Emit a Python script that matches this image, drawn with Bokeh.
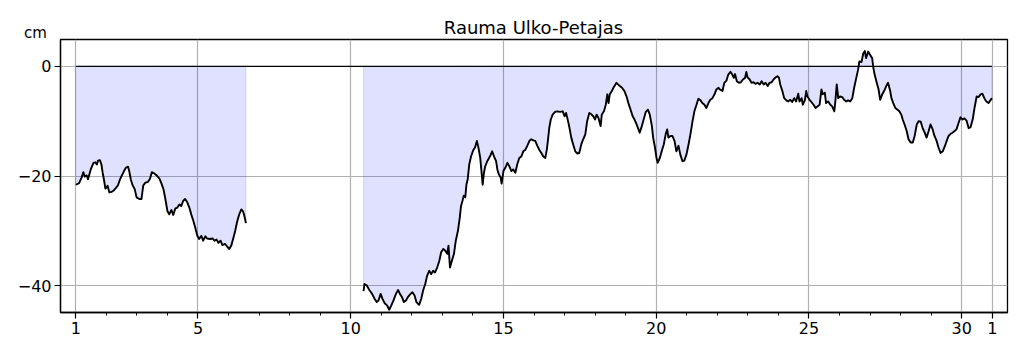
from bokeh.plotting import figure
from bokeh.models import FixedTicker, Range1d, Label
from bokeh.embed import file_html
from bokeh.resources import INLINE

# ---- data (day of month, sea level in cm) ----
seg1_day = [1.00, 1.11, 1.19, 1.25, 1.29, 1.36, 1.40, 1.49, 1.58, 1.64, 1.69, 1.73, 1.79, 1.84,
            1.88, 1.92, 1.97, 2.04, 2.10, 2.17, 2.23, 2.31, 2.38, 2.45, 2.51, 2.58, 2.64, 2.71,
            2.75, 2.80, 2.86, 2.93, 2.99, 3.08, 3.15, 3.21, 3.28, 3.36, 3.43, 3.49, 3.56, 3.65,
            3.74, 3.80, 3.87, 3.93, 4.00, 4.06, 4.13, 4.19, 4.26, 4.32, 4.39, 4.45, 4.52, 4.58,
            4.65, 4.72, 4.78, 4.85, 4.91, 4.98, 5.04, 5.11, 5.17, 5.24, 5.30, 5.39, 5.48, 5.54,
            5.61, 5.67, 5.74, 5.80, 5.89, 5.96, 6.02, 6.09, 6.15, 6.22, 6.28, 6.35, 6.42, 6.48,
            6.52, 6.57]
seg1_cm = [-21.6, -21.3, -20.3, -19.3, -20.1, -19.9, -20.6, -18.8, -17.6, -17.5, -17.9, -17.2, -17.1, -17.9,
           -19.4, -20.6, -22.3, -21.8, -23.0, -22.9, -22.7, -22.2, -21.7, -20.6, -19.9, -19.1, -18.5, -18.3,
           -19.1, -20.6, -21.7, -22.4, -23.9, -24.2, -24.2, -21.7, -21.2, -21.1, -20.5, -19.3, -19.5, -19.9,
           -20.5, -21.3, -22.4, -24.1, -26.4, -27.0, -26.2, -27.1, -25.9, -25.8, -25.2, -25.5, -24.5, -24.2,
           -24.8, -25.8, -27.0, -28.2, -29.4, -30.9, -31.5, -30.9, -31.8, -31.0, -31.4, -31.5, -31.4, -31.8,
           -31.6, -32.2, -31.8, -32.6, -32.4, -32.9, -33.3, -32.7, -31.5, -30.0, -28.4, -27.0, -26.1, -26.5,
           -27.3, -28.6]

seg2_day = [10.42, 10.45, 10.53, 10.61, 10.70, 10.78, 10.85, 10.91, 10.98, 11.04, 11.11, 11.19, 11.26, 11.33,
            11.40, 11.48, 11.55, 11.61, 11.68, 11.74, 11.81, 11.87, 11.96, 12.02, 12.09, 12.15, 12.24, 12.31,
            12.37, 12.44, 12.50, 12.57, 12.63, 12.70, 12.76, 12.83, 12.90, 12.96, 13.03, 13.09, 13.16, 13.20,
            13.25, 13.31, 13.38, 13.44, 13.51, 13.57, 13.61, 13.66, 13.70, 13.75, 13.79, 13.83, 13.88, 13.94,
            14.01, 14.07, 14.13, 14.18, 14.24, 14.28, 14.32, 14.36, 14.40, 14.47, 14.56, 14.63, 14.69, 14.76,
            14.80, 14.85, 14.91, 14.94, 15.00, 15.06, 15.13, 15.19, 15.26, 15.32, 15.39, 15.45, 15.52, 15.59,
            15.65, 15.72, 15.78, 15.85, 15.91, 15.98, 16.04, 16.11, 16.17, 16.24, 16.30, 16.37, 16.42, 16.46,
            16.50, 16.55, 16.61, 16.69, 16.76, 16.85, 16.94, 17.00, 17.05, 17.09, 17.15, 17.22, 17.28, 17.35,
            17.42, 17.48, 17.55, 17.61, 17.68, 17.74, 17.81, 17.87, 17.94, 18.00, 18.05, 18.11, 18.18, 18.22,
            18.29, 18.35, 18.40, 18.44, 18.48, 18.55, 18.61, 18.70, 18.79, 18.88, 18.96, 19.03, 19.09, 19.16,
            19.23, 19.29, 19.36, 19.42, 19.46, 19.53, 19.59, 19.66, 19.73, 19.79, 19.86, 19.90, 19.96, 20.01,
            20.05, 20.12, 20.18, 20.25, 20.31, 20.36, 20.40, 20.47, 20.53, 20.60, 20.66, 20.73, 20.79, 20.86,
            20.92, 20.99, 21.06, 21.12, 21.19, 21.25, 21.32, 21.38, 21.45, 21.51, 21.58, 21.64, 21.71, 21.77,
            21.84, 21.91, 21.97, 22.04, 22.08, 22.17, 22.23, 22.30, 22.36, 22.43, 22.49, 22.54, 22.58, 22.64,
            22.71, 22.77, 22.84, 22.91, 22.95, 22.99, 23.06, 23.12, 23.19, 23.25, 23.32, 23.39, 23.45, 23.52,
            23.58, 23.65, 23.71, 23.78, 23.84, 23.91, 23.97, 24.02, 24.06, 24.13, 24.19, 24.26, 24.32, 24.39,
            24.45, 24.52, 24.58, 24.65, 24.69, 24.76, 24.80, 24.87, 24.91, 24.95, 25.02, 25.08, 25.15, 25.22,
            25.28, 25.35, 25.41, 25.45, 25.52, 25.56, 25.63, 25.70, 25.76, 25.83, 25.87, 25.91, 25.96, 26.02,
            26.09, 26.15, 26.22, 26.28, 26.35, 26.42, 26.48, 26.55, 26.61, 26.65, 26.72, 26.78, 26.83, 26.87,
            26.94, 27.00, 27.07, 27.11, 27.15, 27.22, 27.28, 27.33, 27.40, 27.46, 27.53, 27.59, 27.66, 27.70,
            27.76, 27.83, 27.90, 27.96, 28.03, 28.07, 28.13, 28.20, 28.26, 28.33, 28.40, 28.46, 28.53, 28.59,
            28.66, 28.72, 28.79, 28.85, 28.92, 28.98, 29.05, 29.11, 29.18, 29.24, 29.31, 29.38, 29.44, 29.51,
            29.57, 29.64, 29.70, 29.77, 29.83, 29.90, 29.96, 30.03, 30.09, 30.16, 30.23, 30.29, 30.36, 30.42,
            30.49, 30.55, 30.62, 30.68, 30.75, 30.81, 30.88, 30.94, 30.99]
seg2_cm = [-41.0, -39.7, -40.0, -40.8, -41.5, -42.4, -43.0, -42.7, -41.5, -42.4, -43.2, -43.6, -44.4, -43.6,
           -42.7, -41.5, -40.8, -41.5, -42.1, -43.0, -42.7, -42.1, -41.5, -41.2, -41.8, -43.0, -43.5, -42.4,
           -40.9, -39.7, -38.2, -37.3, -37.9, -37.3, -37.6, -36.7, -35.5, -33.9, -33.3, -33.6, -34.2, -32.7,
           -36.7, -35.5, -34.2, -31.8, -30.0, -27.6, -25.5, -24.5, -23.6, -23.9, -21.5, -20.6, -17.9, -16.4,
           -15.3, -14.8, -13.6, -14.8, -16.7, -19.1, -21.6, -19.5, -18.3, -17.3, -16.4, -15.5, -16.4, -17.3,
           -18.8, -19.7, -20.3, -21.4, -19.1, -18.5, -17.6, -18.2, -19.1, -18.8, -19.4, -17.9, -16.7, -16.4,
           -15.5, -15.2, -14.5, -13.6, -13.3, -13.5, -13.6, -14.5, -15.2, -15.8, -16.4, -16.7, -15.2, -13.3,
           -11.2, -9.7, -8.8, -8.3, -8.2, -8.3, -8.2, -9.1, -8.5, -9.4, -10.9, -13.0, -14.2, -15.5,
           -15.9, -15.8, -14.2, -13.3, -12.4, -10.0, -8.5, -8.7, -9.1, -9.7, -8.8, -9.4, -10.9, -8.8,
           -8.2, -7.0, -5.1, -6.7, -5.1, -4.5, -3.8, -3.0, -3.5, -3.9, -4.5, -5.5, -6.7, -7.9,
           -9.1, -9.7, -10.6, -11.5, -12.1, -10.9, -9.7, -8.3, -7.9, -8.8, -10.9, -13.0, -14.8, -16.7,
           -17.6, -16.7, -15.5, -14.2, -12.4, -11.5, -13.0, -12.7, -12.7, -13.6, -15.5, -14.5, -16.1, -17.3,
           -17.2, -16.1, -14.2, -12.4, -10.0, -8.2, -7.0, -5.9, -6.2, -6.7, -7.0, -7.6, -6.7, -6.1,
           -5.8, -5.1, -4.2, -3.9, -4.2, -4.5, -3.0, -2.6, -1.5, -1.0, -1.5, -2.1, -1.4, -2.7,
           -3.0, -2.9, -2.4, -2.1, -1.0, -2.0, -2.4, -3.0, -2.9, -3.2, -3.0, -3.3, -2.7, -3.3,
           -3.0, -3.6, -3.0, -2.9, -2.4, -2.0, -1.8, -2.1, -3.3, -4.5, -5.8, -6.2, -6.4, -6.1,
           -6.5, -5.8, -6.4, -5.0, -6.4, -5.8, -7.0, -6.1, -4.5, -5.5, -6.1, -6.5, -7.0, -7.6,
           -7.3, -7.0, -4.2, -5.1, -4.8, -6.7, -6.4, -7.0, -7.3, -8.2, -6.1, -3.3, -5.8, -5.5,
           -5.6, -6.1, -6.4, -6.2, -6.4, -5.8, -3.9, -2.1, -0.6, 0.9, 0.8, 2.4, 2.8, 1.5,
           2.7, 2.1, 1.5, -0.3, -1.5, -3.0, -4.2, -6.1, -5.1, -4.5, -3.6, -3.0, -4.5, -5.8,
           -6.7, -7.6, -7.9, -8.2, -8.9, -9.7, -10.6, -11.8, -13.3, -13.9, -13.9, -12.7, -10.6, -10.0,
           -10.1, -11.2, -12.1, -13.0, -11.8, -10.6, -11.5, -12.7, -13.6, -14.8, -15.8, -15.5, -14.7, -13.6,
           -12.7, -12.3, -12.1, -11.8, -11.5, -10.3, -9.3, -9.7, -9.5, -9.9, -11.3, -11.1, -9.7, -7.6,
           -5.5, -5.6, -5.1, -5.0, -5.9, -6.4, -6.7, -6.2, -5.8]

x_ticks = [1, 5, 10, 15, 20, 25, 30, 31]
x_tick_labels = ["1", "5", "10", "15", "20", "25", "30", "1"]
x_minor = list(range(1, 32))
y_ticks = [0, -20, -40]
y_tick_labels = ["0", "\u221220", "\u221240"]
unit_label = "cm"
title_text = "Rauma Ulko-Petajas"

FONT = "DejaVu Sans"

p = figure(width=1019, height=346, output_backend="svg", toolbar_location=None,
           x_range=Range1d(0.5, 31.5), y_range=Range1d(-44.9, 4.9),
           min_border_left=60, min_border_right=12, min_border_top=38, min_border_bottom=34)
p.background_fill_color = "white"
p.border_fill_color = "white"
p.outline_line_color = "black"
p.outline_line_width = 1.3
p.title.visible = False

for g in (p.xgrid, p.ygrid):
    g.grid_line_color = "#b0b0b0"
    g.grid_line_width = 1.2

xa = p.xaxis[0]
xa.ticker = FixedTicker(ticks=x_ticks, minor_ticks=x_minor)
xa.major_label_overrides = dict(zip(x_ticks, x_tick_labels))
ya = p.yaxis[0]
ya.ticker = FixedTicker(ticks=y_ticks, minor_ticks=[])
ya.major_label_overrides = dict(zip(y_ticks, y_tick_labels))
for ax in (xa, ya):
    ax.axis_line_color = "black"
    ax.axis_line_width = 1.3
    ax.major_tick_line_color = "black"
    ax.minor_tick_line_color = "black"
    ax.major_tick_line_width = 1.2
    ax.minor_tick_line_width = 1.0
    ax.major_tick_out = 6
    ax.major_tick_in = 0
    ax.minor_tick_out = 3
    ax.minor_tick_in = 0
    ax.major_label_text_font = FONT
    ax.major_label_text_font_size = "16px"
    ax.major_label_text_color = "black"
    ax.major_label_standoff = 3

for d, v in ((seg1_day, seg1_cm), (seg2_day, seg2_cm)):
    px = d + d[::-1]
    py = v + [0.0] * len(d)
    p.patch(px, py, fill_color="blue", fill_alpha=0.12, line_color="blue", line_alpha=0.12, line_width=1)

p.line([seg1_day[0], seg2_day[-1]], [0, 0], line_color="black", line_width=1.3)

for d, v in ((seg1_day, seg1_cm), (seg2_day, seg2_cm)):
    p.line(d, v, line_color="black", line_width=1.9, line_join="round")

# title and unit label placed in the top side panel (canvas coordinates, not clipped)
p.add_layout(Label(x=533, y=27, x_units="canvas", y_units="canvas", text=title_text,
                   text_font=FONT, text_font_size="18px", text_color="black",
                   text_align="center", text_baseline="alphabetic"), "above")
p.add_layout(Label(x=35, y=32, x_units="canvas", y_units="canvas", text=unit_label,
                   text_font=FONT, text_font_size="15px", text_color="black",
                   text_align="center", text_baseline="alphabetic"), "above")

open("out.html", "w").write(file_html(p, INLINE))
